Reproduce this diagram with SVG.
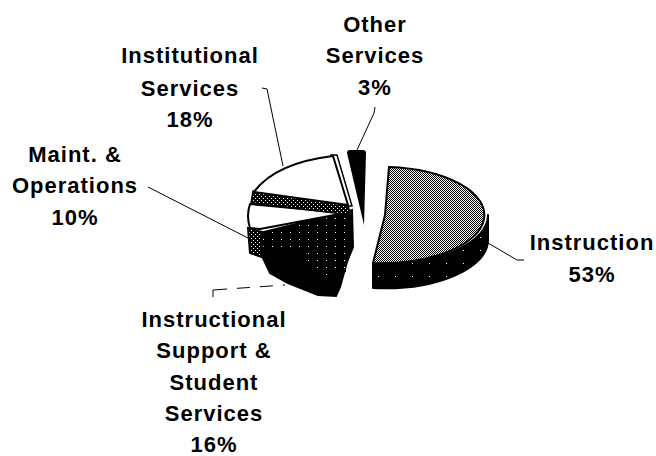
<svg xmlns="http://www.w3.org/2000/svg" width="656" height="456" viewBox="0 0 656 456">
<defs>
<pattern id="gray" patternUnits="userSpaceOnUse" width="2" height="2">
<rect width="2" height="2" fill="#fff"/>
<rect width="1" height="1" fill="#000"/>
<rect x="1" y="1" width="1" height="1" fill="#000"/>
</pattern>
<pattern id="band" patternUnits="userSpaceOnUse" width="4" height="4">
<rect width="4" height="4" fill="#000"/>
<rect x="1" y="0" width="1" height="1" fill="#fff"/>
<rect x="3" y="2" width="1" height="1" fill="#fff"/>
</pattern>
<pattern id="speck" patternUnits="userSpaceOnUse" width="9" height="7">
<rect width="9" height="7" fill="#000"/>
<rect x="2" y="1" width="1" height="1" fill="#fff"/>
</pattern>
<pattern id="sparse" patternUnits="userSpaceOnUse" width="17" height="13">
<rect width="17" height="13" fill="#000"/>
<rect x="4" y="3" width="1" height="1" fill="#fff"/>
</pattern>
</defs>
<style>
.lbl{font-family:"Liberation Sans",Arial,sans-serif;font-weight:bold;font-size:22px;letter-spacing:1px;text-anchor:middle;fill:#000}
.edge{stroke:#000;stroke-width:2;stroke-linejoin:round}
.lead{fill:none;stroke:#000;stroke-width:1}
</style>
<rect width="656" height="456" fill="#fff"/>

<g id="connectors">
<path class="lead" d="M262,88 L267,89 L283,166"/>
<path class="lead" d="M375,107 L374,113 L357,150"/>
<path class="lead" d="M148,187 L248,238"/>
<path class="lead" d="M488,243 L517,260 L524,260"/>
<path class="lead" d="M213,297 L213,290 L285,285" stroke-dasharray="21 10 13 10 13 10 13"/>
</g>

<g id="node-instruction">
<path class="edge" fill="url(#sparse)" d="M488,215 A103,48 0 0 1 373,263 L373,288 A103,48 0 0 0 488,240 Z"/>
<path class="edge" fill="url(#gray)" d="M385,215 L389,167 A103,48 0 1 1 373,263 Z"/>
<text class="lbl" x="592" y="250">Instruction</text>
<text class="lbl" x="592" y="282">53%</text>
</g>

<g id="node-support">
<path fill="#000" stroke="#000" stroke-width="2" d="M260,233 L352,210 L353,247 L347,262 L340,287 L336,296 L318,295 L288,283 L270,273 L262,256 Z"/>
<path fill="url(#speck)" d="M262,234 L351,212 L351,240 L330,245 L300,250 L264,254 Z"/>
<path fill="url(#speck)" d="M305,240 L346,236 L346,272 L325,276 L305,265 Z"/>
<text class="lbl" x="214" y="327">Instructional</text>
<text class="lbl" x="214" y="358">Support &amp;</text>
<text class="lbl" x="214" y="390">Student</text>
<text class="lbl" x="214" y="421">Services</text>
<text class="lbl" x="214" y="452">16%</text>
</g>

<g id="node-maint">
<path fill="url(#band)" stroke="#000" stroke-width="2" d="M248,228 L262,232 L262,257 L250,253 Z"/>
<path class="edge" fill="#fff" d="M250,204 L345,213 L260,229 L250,228 Q246,216 250,204 Z"/>
<text class="lbl" x="75" y="162">Maint. &amp;</text>
<text class="lbl" x="75" y="193">Operations</text>
<text class="lbl" x="75" y="225">10%</text>
</g>

<g id="node-institutional">
<path fill="url(#band)" stroke="#000" stroke-width="1.5" d="M253,191 L348,204 L350,215 L251,203 Z"/>
<path fill="#fff" stroke="#000" stroke-width="1.5" d="M331,155 L337,155 L352,206 L347,206 Z"/>
<path class="edge" fill="#fff" stroke-width="2.5" d="M348,205 L333,156 C300,160 270,170 254,192 Z"/>
<text class="lbl" x="190" y="63">Institutional</text>
<text class="lbl" x="190" y="96">Services</text>
<text class="lbl" x="190" y="127">18%</text>
</g>

<g id="node-other">
<path fill="#000" d="M347,153 Q347,150 350,150 L363,150 Q366,150 366,153 L364,225 Z"/>
<text class="lbl" x="375" y="32">Other</text>
<text class="lbl" x="375" y="63">Services</text>
<text class="lbl" x="375" y="95">3%</text>
</g>
</svg>
